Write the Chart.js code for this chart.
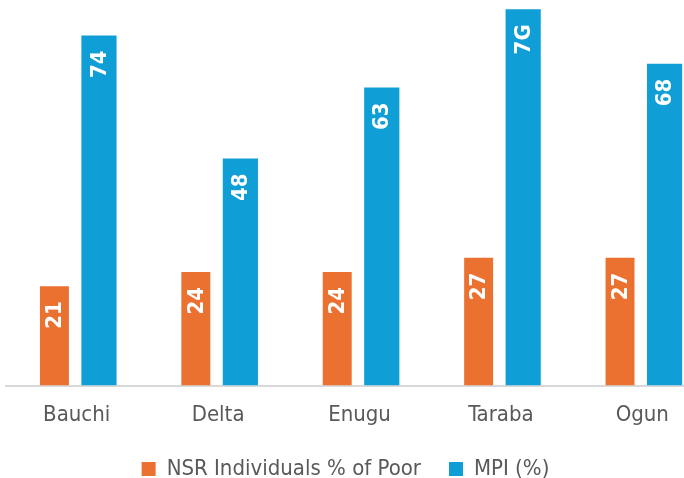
<!DOCTYPE html>
<html>
<head>
<meta charset="utf-8">
<script src="https://cdn.jsdelivr.net/npm/chart.js@4"></script>
<style>
  html, body { margin: 0; padding: 0; background: #fff; overflow: hidden; }
  #wrap { width: 713px; height: 504px; }
</style>
</head>
<body>
<div id="wrap"><canvas id="chart" width="713" height="504"></canvas></div>
<script>
const states = ["Bauchi", "Delta", "Enugu", "Taraba", "Ogun"];
const nsrValues = [21, 24, 24, 27, 27];
const mpiValues = [74, 48, 63, 79.5, 68];
const nsrLabels = ["21", "24", "24", "27", "27"];
const mpiLabels = ["74", "48", "63", "7G", "68"];

const fontFamily = "'DejaVu Sans Condensed', 'DejaVu Sans', sans-serif";

// white rotated numbers near the top of each bar
const barLabels = {
  id: "barLabels",
  afterDatasetsDraw(chart) {
    const ctx = chart.ctx;
    const texts = [nsrLabels, mpiLabels];
    chart.data.datasets.forEach((ds, di) => {
      chart.getDatasetMeta(di).data.forEach((bar, i) => {
        ctx.save();
        ctx.translate(bar.x, bar.y + 15);
        ctx.rotate(-Math.PI / 2);
        ctx.fillStyle = "#ffffff";
        ctx.font = "bold 22px " + fontFamily;
        ctx.textAlign = "right";
        ctx.textBaseline = "middle";
        ctx.fillText(texts[di][i], 0, 1);
        ctx.restore();
      });
    });
  }
};

// legend sits a little left of the plot centre and closer to the labels
const legendShift = {
  id: "legendShift",
  afterLayout(chart) {
    chart.legend.left -= 14;
    chart.legend.right -= 14;
    chart.legend.top -= 14;
    chart.legend.bottom -= 14;
  }
};

new Chart(document.getElementById("chart"), {
  type: "bar",
  data: {
    labels: states,
    datasets: [
      {
        label: "NSR Individuals % of Poor",
        data: nsrValues,
        backgroundColor: "#EB7131",
        barPercentage: 0.65,
        categoryPercentage: 0.63
      },
      {
        label: "MPI (%)",
        data: mpiValues,
        backgroundColor: "#109ED6",
        barPercentage: 0.79,
        categoryPercentage: 0.63
      }
    ]
  },
  options: {
    responsive: false,
    animation: false,
    layout: { padding: { left: 6, top: 7, right: 0, bottom: 0 } },
    plugins: {
      tooltip: { enabled: false },
      legend: {
        position: "bottom",
        labels: {
          color: "#595959",
          font: { family: fontFamily, size: 22 },
          boxWidth: 14,
          boxHeight: 14,
          padding: 28
        }
      }
    },
    scales: {
      x: {
        grid: { display: false, drawTicks: false, tickLength: 0 },
        border: { display: true, color: "#D9D9D9", width: 2 },
        ticks: {
          color: "#595959",
          font: { family: fontFamily, size: 22 },
          padding: 16
        }
      },
      y: {
        display: false,
        min: 0,
        max: 80
      }
    }
  },
  plugins: [barLabels, legendShift]
});
</script>
</body>
</html>
